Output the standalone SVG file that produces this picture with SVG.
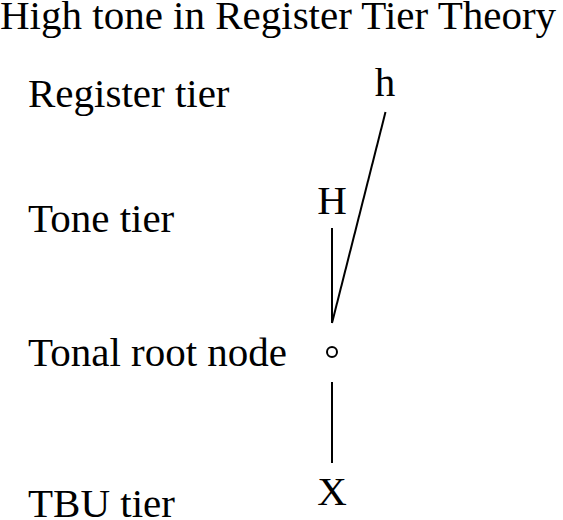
<svg xmlns="http://www.w3.org/2000/svg" width="563" height="520" viewBox="0 0 563 520">
<style>
text{font-family:"Liberation Serif","Times New Roman",serif;fill:#000}
.t{font-size:41px}
.l{font-size:41px}
.c{text-anchor:middle}
line,circle{stroke:#000;stroke-width:2;fill:none}
</style>
<rect width="563" height="520" fill="#fff"/>
<text class="t" x="0" y="29">High tone in Register Tier Theory</text>
<g id="labels">
<text class="l" x="28" y="107">Register tier</text>
<text class="l" x="28" y="232">Tone tier</text>
<text class="l" x="28" y="366">Tonal root node</text>
<text class="l" x="28" y="517">TBU tier</text>
</g>
<g id="node-h"><text class="l c" x="385" y="96">h</text></g>
<g id="node-H"><text class="l c" x="332" y="214">H</text></g>
<g id="node-root"><circle cx="332" cy="352" r="5"/></g>
<g id="node-X"><text class="l c" x="332" y="505">X</text></g>
<g id="connectors">
<line x1="332" y1="228" x2="332" y2="323"/>
<line x1="385.5" y1="112" x2="332" y2="323"/>
<line x1="332" y1="382" x2="332" y2="463"/>
</g>
</svg>
